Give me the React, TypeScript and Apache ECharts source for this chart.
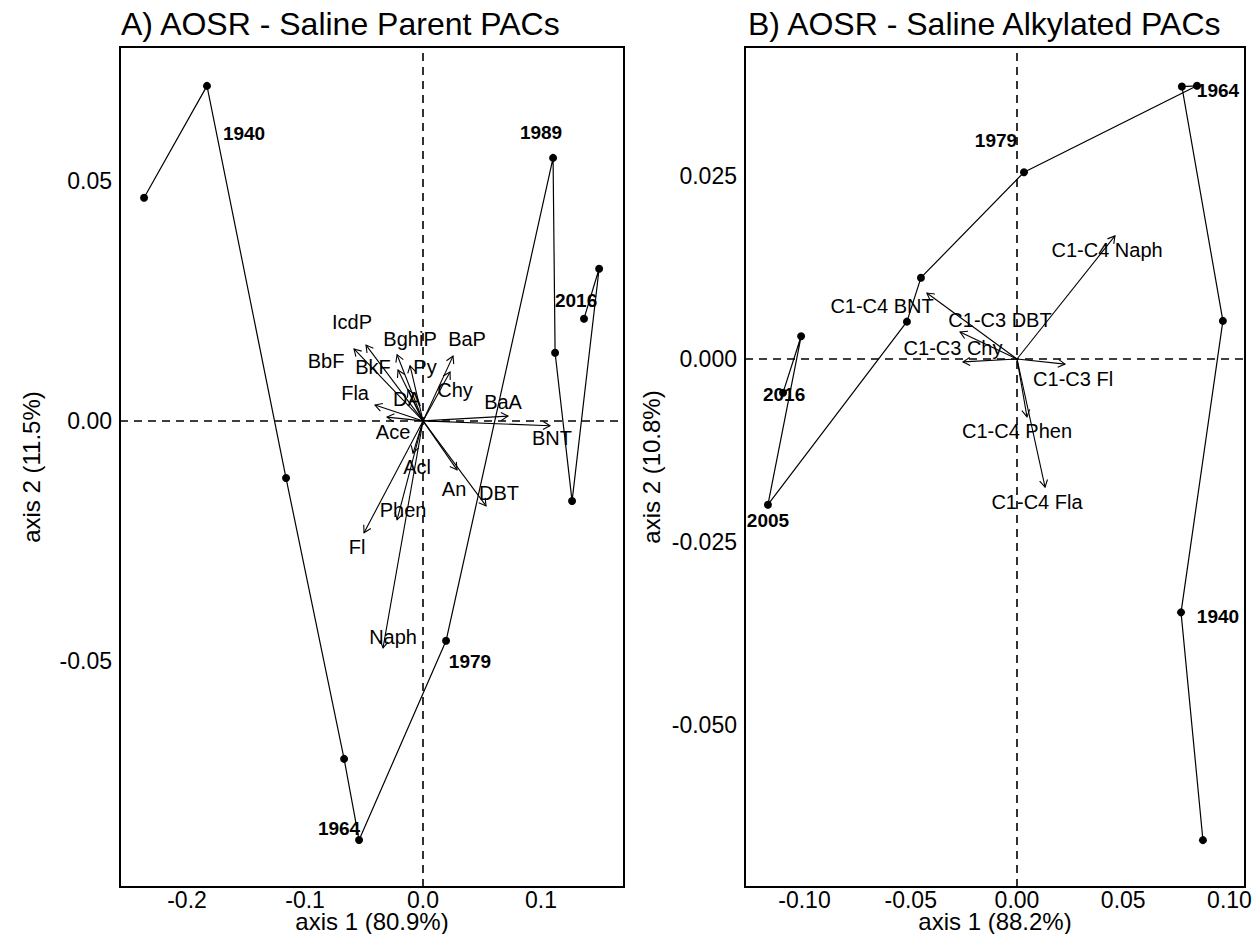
import React, { useEffect, useRef } from "react";
import * as echarts from "echarts";

// ---------- Panel A: AOSR - Saline Parent PACs ----------
const aSiteX = [-0.2364, -0.1831, -0.1161, -0.0669, -0.0542, 0.0195, 0.1102, 0.1119, 0.1263, 0.1492, 0.1364];
const aSiteY = [0.0465, 0.0698, -0.0119, -0.0704, -0.0873, -0.0458, 0.0548, 0.0142, -0.0167, 0.0317, 0.0213];
const aYears = ["1940", "1964", "1979", "1989", "2016"];
const aYearX = [-0.1517, -0.0712, 0.0398, 0.1, 0.1297];
const aYearY = [0.0598, -0.085, -0.0502, 0.06, 0.025];

const aSpecies = ["IcdP", "BbF", "BkF", "BghiP", "Py", "BaP", "Chy", "DA", "Fla", "Ace", "BaA", "BNT", "Acl", "An", "DBT", "Phen", "Fl", "Naph"];
const aSpeciesX = [-0.0483, -0.0585, -0.0212, -0.022, -0.011, 0.0254, 0.0229, -0.0127, -0.0407, -0.0305, 0.072, 0.1076, -0.0085, 0.0288, 0.0534, -0.022, -0.05, -0.0339];
const aSpeciesY = [0.0158, 0.015, 0.0106, 0.0138, 0.0115, 0.0135, 0.0102, 0.0065, 0.0033, 0.0008, 0.001, -0.001, -0.0067, -0.0102, -0.0177, -0.0206, -0.0233, -0.0473];
const aLabelX = [-0.0602, -0.0822, -0.0424, -0.011, 0.0017, 0.0373, 0.0271, -0.0136, -0.0576, -0.0254, 0.0678, 0.1093, -0.0051, 0.0263, 0.0644, -0.0169, -0.0559, -0.0254];
const aLabelY = [0.0206, 0.0125, 0.0113, 0.0171, 0.0113, 0.0171, 0.0065, 0.0046, 0.0058, -0.0023, 0.004, -0.0035, -0.0096, -0.0142, -0.015, -0.0185, -0.0263, -0.045];

const aXTicks = [-0.2, -0.1, 0.0, 0.1];
const aYTicks = [-0.05, 0.0, 0.05];

// ---------- Panel B: AOSR - Saline Alkylated PACs ----------
const bSiteX = [0.0875, 0.0772, 0.0969, 0.0776, 0.0847, 0.0033, -0.0452, -0.0518, -0.1172, -0.1016, -0.1101];
const bSiteY = [-0.0657, -0.0346, 0.0052, 0.0372, 0.0373, 0.0255, 0.0111, 0.0051, -0.0199, 0.0031, -0.0046];
const bYears = ["1940", "1964", "1979", "2005", "2016"];
const bYearX = [0.0946, 0.0946, -0.0099, -0.1172, -0.1096];
const bYearY = [-0.0352, 0.0367, 0.0299, -0.022, -0.0049];

const bSpecies = ["C1-C4 Naph", "C1-C4 BNT", "C1-C3 DBT", "C1-C3 Chy", "C1-C3 Fl", "C1-C4 Phen", "C1-C4 Fla"];
const bSpeciesX = [0.0461, -0.0424, -0.0268, -0.0254, 0.0226, 0.0047, 0.0132];
const bSpeciesY = [0.0168, 0.009, 0.0037, -0.0004, -0.0007, -0.0079, -0.0175];
const bLabelX = [0.0424, -0.0635, -0.008, -0.0301, 0.0264, 0.0, 0.0094];
const bLabelY = [0.0149, 0.0072, 0.0053, 0.0015, -0.0027, -0.0098, -0.0195];

const bXTicks = [-0.1, -0.05, 0.0, 0.05, 0.1];
const bYTicks = [-0.05, -0.025, 0.0, 0.025];

const FONT = "'Liberation Sans', Arial, sans-serif";

function arrowRender(params: any, api: any) {
  const o = api.coord([0, 0]);
  const e = api.coord([api.value(0), api.value(1)]);
  const ang = Math.atan2(e[1] - o[1], e[0] - o[0]);
  const L = 8;
  const a = Math.PI / 6;
  const p1 = [e[0] - L * Math.cos(ang - a), e[1] - L * Math.sin(ang - a)];
  const p2 = [e[0] - L * Math.cos(ang + a), e[1] - L * Math.sin(ang + a)];
  return {
    type: "group",
    children: [
      { type: "line", shape: { x1: o[0], y1: o[1], x2: e[0], y2: e[1] }, style: { stroke: "#000", lineWidth: 1.1 } },
      { type: "polyline", shape: { points: [p1, e, p2] }, style: { stroke: "#000", fill: null, lineWidth: 1.1 } },
    ],
  };
}

function textRender(names: string[], size: number, weight: string) {
  return (params: any, api: any) => {
    const p = api.coord([api.value(0), api.value(1)]);
    return {
      type: "text",
      x: p[0],
      y: p[1],
      style: {
        text: names[params.dataIndex],
        fill: "#000",
        fontSize: size,
        fontWeight: weight,
        fontFamily: FONT,
        align: "center",
        verticalAlign: "middle",
      },
    };
  };
}

function panelSeries(idx: number, siteX: number[], siteY: number[], years: string[], yX: number[], yY: number[], sp: string[], sX: number[], sY: number[], lX: number[], lY: number[]) {
  return [
    {
      type: "line",
      xAxisIndex: idx,
      yAxisIndex: idx,
      data: siteX.map((x, i) => [x, siteY[i]]),
      symbol: "circle",
      symbolSize: 8,
      showSymbol: true,
      itemStyle: { color: "#000" },
      lineStyle: { color: "#000", width: 1.2 },
      z: 3,
      markLine: {
        silent: true,
        symbol: "none",
        label: { show: false },
        lineStyle: { color: "#000", width: 1.6, type: [8, 6] },
        data: [{ xAxis: 0 }, { yAxis: 0 }],
      },
    },
    {
      type: "custom",
      xAxisIndex: idx,
      yAxisIndex: idx,
      data: sX.map((x, i) => [x, sY[i]]),
      renderItem: arrowRender,
      z: 4,
    },
    {
      type: "custom",
      xAxisIndex: idx,
      yAxisIndex: idx,
      data: lX.map((x, i) => [x, lY[i]]),
      renderItem: textRender(sp, 20, "normal"),
      z: 5,
    },
    {
      type: "custom",
      xAxisIndex: idx,
      yAxisIndex: idx,
      data: yX.map((x, i) => [x, yY[i]]),
      renderItem: textRender(years, 19, "bold"),
      z: 5,
    },
  ];
}

function axisLabelStyle(decimals: number, ticks: number[], margin: number) {
  return {
    show: true,
    customValues: ticks,
    formatter: (v: number) => (Math.abs(v) < 1e-9 ? (0).toFixed(decimals) : v.toFixed(decimals)),
    color: "#000",
    fontSize: 23,
    fontFamily: FONT,
    margin,
  };
}

function axisTitle(text: string, x: number, y: number, rotate: boolean) {
  return {
    type: "text",
    x,
    y,
    rotation: rotate ? Math.PI / 2 : 0,
    style: { text, fill: "#000", fontSize: 24, fontFamily: FONT, align: "center", verticalAlign: "middle" },
  };
}

export default function App() {
  const ref = useRef<HTMLDivElement>(null);
  useEffect(() => {
    if (!ref.current) return;
    const chart = echarts.init(ref.current, null, { renderer: "svg" });
    const grids = [
      { left: 120, top: 47, width: 504, height: 840, show: true, borderColor: "#000", borderWidth: 2, backgroundColor: "transparent", containLabel: false, outerBoundsMode: "none" },
      { left: 745, top: 47, width: 500, height: 840, show: true, borderColor: "#000", borderWidth: 2, backgroundColor: "transparent", containLabel: false, outerBoundsMode: "none" },
    ];
    const baseAxis = { axisLine: { show: false }, axisTick: { show: false }, splitLine: { show: false } };
    chart.setOption({
      animation: false,
      backgroundColor: "#fff",
      title: [
        { text: "A) AOSR - Saline Parent PACs", left: 116, top: 3, textStyle: { color: "#000", fontSize: 32, fontWeight: "normal", fontFamily: FONT } },
        { text: "B) AOSR - Saline Alkylated PACs", left: 743, top: 3, textStyle: { color: "#000", fontSize: 32, fontWeight: "normal", fontFamily: FONT } },
      ],
      grid: grids,
      xAxis: [
        { type: "value", gridIndex: 0, min: -0.2568, max: 0.1703, ...baseAxis, axisLabel: axisLabelStyle(1, aXTicks, 1) },
        { type: "value", gridIndex: 1, min: -0.128, max: 0.1073, ...baseAxis, axisLabel: axisLabelStyle(2, bXTicks, 1) },
      ],
      yAxis: [
        { type: "value", gridIndex: 0, min: -0.0971, max: 0.0779, ...baseAxis, axisLabel: axisLabelStyle(2, aYTicks, 8) },
        { type: "value", gridIndex: 1, min: -0.0721, max: 0.0426, ...baseAxis, axisLabel: axisLabelStyle(3, bYTicks, 8) },
      ],
      graphic: [
        axisTitle("axis 1 (80.9%)", 372, 921, false),
        axisTitle("axis 1 (88.2%)", 995, 921, false),
        axisTitle("axis 2 (11.5%)", 31, 467, true),
        axisTitle("axis 2 (10.8%)", 651, 467, true),
      ],
      series: [
        ...panelSeries(0, aSiteX, aSiteY, aYears, aYearX, aYearY, aSpecies, aSpeciesX, aSpeciesY, aLabelX, aLabelY),
        ...panelSeries(1, bSiteX, bSiteY, bYears, bYearX, bYearY, bSpecies, bSpeciesX, bSpeciesY, bLabelX, bLabelY),
      ],
    });
    return () => chart.dispose();
  }, []);
  return <div ref={ref} style={{ position: "absolute", left: 0, top: 0, width: 1257, height: 934 }} />;
}
